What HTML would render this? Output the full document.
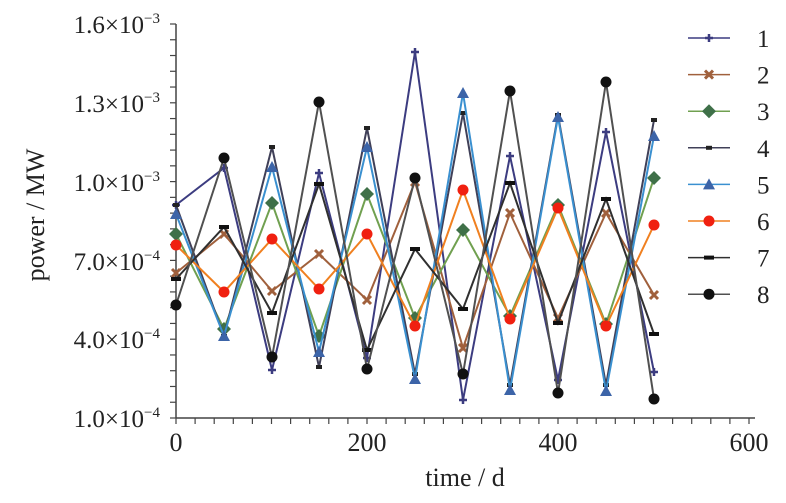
<!DOCTYPE html><html><head><style>body{margin:0;background:#fff}</style></head><body>
<svg width="786" height="498" xmlns="http://www.w3.org/2000/svg" font-family="Liberation Serif, serif">
<g stroke="#444" stroke-width="1.5" fill="none">
<line x1="176" y1="24" x2="176" y2="418"/><line x1="176" y1="418" x2="755" y2="418"/>
</g>
<g id="t" stroke="#444" stroke-width="1.2"></g>
<g font-size="25" fill="#222" text-anchor="end">
<text x="160" y="33">1.6×10<tspan font-size="15" dy="-10">−3</tspan></text>
<text x="160" y="112">1.3×10<tspan font-size="15" dy="-10">−3</tspan></text>
<text x="160" y="191">1.0×10<tspan font-size="15" dy="-10">−3</tspan></text>
<text x="160" y="270">7.0×10<tspan font-size="15" dy="-10">−4</tspan></text>
<text x="160" y="348">4.0×10<tspan font-size="15" dy="-10">−4</tspan></text>
<text x="160" y="427">1.0×10<tspan font-size="15" dy="-10">−4</tspan></text>
</g>
<g font-size="26" fill="#222" text-anchor="middle">
<text x="176" y="451">0</text><text x="367" y="451">200</text><text x="558" y="451">400</text><text x="749" y="451">600</text>
<text x="465" y="486">time / d</text>
<text transform="translate(44,215) rotate(-90)">power / MW</text>
</g>
<g id="s" fill="none" stroke-width="2"></g>
<g id="leg" font-size="25" fill="#222"></g>
<script>
var ns="http://www.w3.org/2000/svg";
function el(p,n,a){var e=document.createElementNS(ns,n);for(var k in a)e.setAttribute(k,a[k]);p.appendChild(e);return e}
var t=document.getElementById('t');
for(var i=0;i<=25;i++){var y=24+i*394/25;el(t,'line',{x1:170,y1:y,x2:176,y2:y});}
for(var i=0;i<=30;i++){var x=176+i*573/30;el(t,'line',{x1:x,y1:418,x2:x,y2:424});}
var X=[176,224,272,319,367,415,463,510,558,606,654];
var S=[
{c:'#3c3c80',m:'#3c3c80',k:'+',y:[205,168,370,173,358,52,400,156,380,132,372]},
{c:'#a0603c',m:'#a0603c',k:'x',y:[273,234,291,254,300,182,348,213,318,213,295]},
{c:'#70a050',m:'#3f7048',k:'d',y:[234,329,203,336,194,318,230,316,205,324,178]},
{c:'#404058',m:'#222',k:'-',y:[205,336,147,367,128,374,113,385,115,385,120]},
{c:'#3a90d0',m:'#3c64a8',k:'^',y:[214,336,167,352,147,379,93,390,117,391,136]},
{c:'#f08020',m:'#f02010',k:'o',y:[245,292,239,289,234,326,190,319,208,326,225]},
{c:'#303030',m:'#111',k:'_',y:[279,227,313,184,350,249,309,183,323,199,334]},
{c:'#505050',m:'#111',k:'O',y:[305,158,357,102,369,178,374,91,393,82,399]}];
var s=document.getElementById('s'),L=document.getElementById('leg');
function mk(g,k,x,y,m){
 if(k=='+'){el(g,'path',{d:'M'+(x-4)+' '+y+'h8M'+x+' '+(y-4)+'v8',stroke:m,'stroke-width':2.5});}
 else if(k=='x'){el(g,'path',{d:'M'+(x-4)+' '+(y-4)+'l8 8M'+(x+4)+' '+(y-4)+'l-8 8',stroke:m,'stroke-width':3});}
 else if(k=='d'){el(g,'path',{d:'M'+x+' '+(y-7)+'l7 7l-7 7l-7 -7z',fill:m,stroke:'none'});}
 else if(k=='-'){el(g,'rect',{x:x-3,y:y-2,width:6,height:4,fill:m});}
 else if(k=='_'){el(g,'rect',{x:x-5,y:y-2,width:10,height:4,fill:m});}
 else if(k=='^'){el(g,'path',{d:'M'+x+' '+(y-6)+'l6 11h-12z',fill:m});}
 else {el(g,'circle',{cx:x,cy:y,r:5.5,fill:m});}
}
S.forEach(function(d,i){
 var p='';d.y.forEach(function(y,j){p+=(j?'L':'M')+X[j]+' '+y});
 el(s,'path',{d:p,stroke:d.c});
 d.y.forEach(function(y,j){mk(s,d.k,X[j],y,d.m)});
 var ly=38+i*36.6;
 el(L,'line',{x1:688,y1:ly,x2:730,y2:ly,stroke:d.c,'stroke-width':1.5});
 mk(L,d.k,709,ly,d.m);
 var tx=el(L,'text',{x:757,y:ly+9});tx.textContent=(i+1);
});
</script>
</svg></body></html>
